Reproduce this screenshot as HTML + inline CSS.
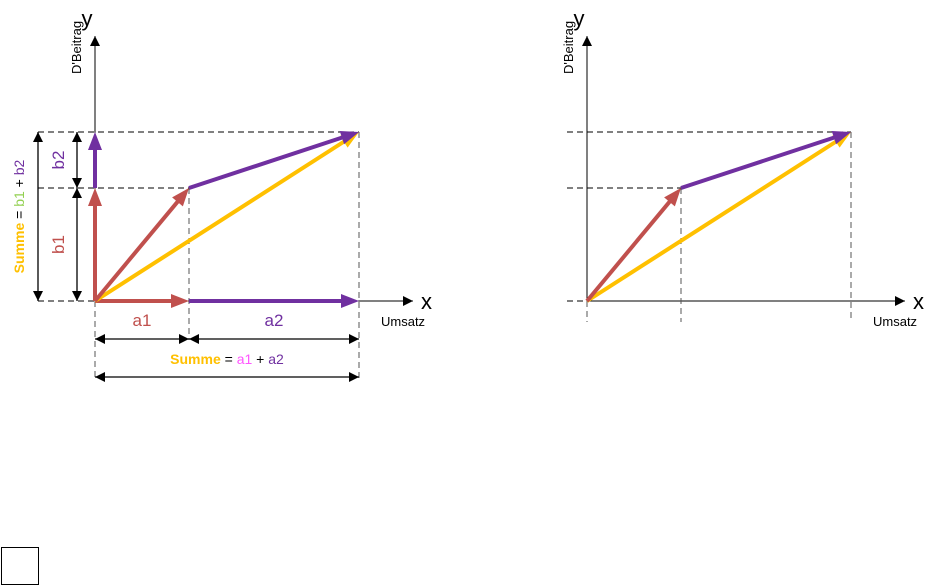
<!DOCTYPE html>
<html><head><meta charset="utf-8"><style>
html,body{margin:0;padding:0;background:#fff;}
svg{display:block;font-family:"Liberation Sans",sans-serif;}
</style></head><body>
<svg id="chart" width="926" height="586" viewBox="0 0 926 586">
<defs>
<marker id="mk" viewBox="0 0 10 10" refX="10" refY="5" markerWidth="12" markerHeight="10" markerUnits="userSpaceOnUse" orient="auto"><path d="M0,0L10,5L0,10z" fill="#000"/></marker>
<marker id="mks" viewBox="0 0 10 10" refX="10" refY="5" markerWidth="12" markerHeight="10" markerUnits="userSpaceOnUse" orient="auto-start-reverse"><path d="M0,0L10,5L0,10z" fill="#000"/></marker>
</defs>
<g id="left"></g>
<g id="right"></g>
<rect x="1.5" y="547.5" width="37" height="37" fill="#fff" stroke="#000" stroke-width="1"/>
</svg>
<script>
// vector components (data units)
const vecLabels = ["v1","v2"];
const vecX = [94, 170];
const vecY = [113, 56];
const vecColors = ["#c0504d","#7030a0"];
const sumColor = "#ffc000";

const NS = "http://www.w3.org/2000/svg";
function mk(parent, tag, attrs, text){
  const e = document.createElementNS(NS, tag);
  for (const k in attrs) e.setAttribute(k, attrs[k]);
  if (text !== undefined) e.textContent = text;
  parent.appendChild(e);
  return e;
}
function arrowHead(g, x1,y1,x2,y2,color,len,wid){
  const a = Math.atan2(y2-y1,x2-x1);
  const bx = x2 - len*Math.cos(a), by = y2 - len*Math.sin(a);
  const px = -Math.sin(a)*wid/2, py = Math.cos(a)*wid/2;
  const p = mk(g,"path",{d:`M${x2},${y2}L${bx+px},${by+py}L${bx-px},${by-py}Z`,fill:color});
  return [bx,by,p];
}
function vec(g, x1,y1,x2,y2,color,name){
  const [bx,by] = [0,0];
  const a = Math.atan2(y2-y1,x2-x1);
  const ex = x2 - 16*Math.cos(a), ey = y2 - 16*Math.sin(a);
  const l = mk(g,"line",{x1,y1,x2:ex,y2:ey,stroke:color,"stroke-width":4});
  
  
  const h = arrowHead(g,x1,y1,x2,y2,color,18,14)[2];
  
  
}
function dashed(g,x1,y1,x2,y2,name,c){
  const l = mk(g,"line",{x1,y1,x2,y2,stroke:c||"#000","stroke-width":1,"stroke-dasharray":"6,4"});
  
  
}
function dim(g,x1,y1,x2,y2,name){
  const l = mk(g,"line",{x1,y1,x2,y2,stroke:"#000","stroke-width":1.3,"marker-end":"url(#mk)","marker-start":"url(#mks)"});
  
  
}

function draw(g, ox, oy, full){
  const sx = v => ox + v;
  const sy = v => oy - v;
  const p1x = sx(vecX[0]), p1y = sy(vecY[0]);
  const p2x = sx(vecX[0]+vecX[1]), p2y = sy(vecY[0]+vecY[1]);
  // axes
  let ax = mk(g,"line",{x1:ox,y1:oy,x2:ox+318,y2:oy,stroke:"#000","stroke-width":1,"marker-end":"url(#mk)"});
   
  let ay = mk(g,"line",{x1:ox,y1:oy,x2:ox,y2:36,stroke:"#000","stroke-width":1,"marker-end":"url(#mk)"});
   
  let t = mk(g,"text",{x:ox+326,y:oy+8,"font-size":22},"x");
   
  t = mk(g,"text",{x:ox+286,y:oy+25,"font-size":13},"Umsatz");
   
  t = mk(g,"text",{x:ox-8,y:26,"font-size":22,"text-anchor":"middle"},"y");
   
  t = mk(g,"text",{x:0,y:0,"font-size":13,transform:`translate(${ox-14},74) rotate(-90)`},"D'Beitrag");
   
  // guides
  const gl = full ? 38 : ox-20;
  dashed(g,gl,p2y,p2x,p2y,'guide-top');
  dashed(g,gl,p1y,p1x,p1y,'guide-mid');
  dashed(g,gl,oy,ox,oy,'guide-base');
  dashed(g,p1x,p1y,p1x,full?340:322,'guide-p1',"#555");
  dashed(g,p2x,p2y,p2x,full?379:322,'guide-p2',"#555");
  dashed(g,ox,oy,ox,full?379:322,'guide-origin',"#555");
  if (full){
    vec(g,ox,oy,p1x,oy,vecColors[0],'vector-a1');
    vec(g,p1x,oy,p2x,oy,vecColors[1],'vector-a2');
    vec(g,ox,oy,ox,p1y,vecColors[0],'vector-b1');
    vec(g,ox,p1y,ox,p2y,vecColors[1],'vector-b2');
    dim(g,ox,339,p1x,339,'dim-a1');
    dim(g,p1x,339,p2x,339,'dim-a2');
    dim(g,ox,377,p2x,377,'dim-sum-x');
    dim(g,77,p2y,77,p1y,'dim-b2');
    dim(g,77,p1y,77,oy,'dim-b1');
    dim(g,38,p2y,38,oy,'dim-sum-y');
    t = mk(g,"text",{x:(ox+p1x)/2,y:326,"font-size":17,fill:vecColors[0],"text-anchor":"middle"},"a1");
     
    t = mk(g,"text",{x:(p1x+p2x)/2,y:326,"font-size":17,fill:vecColors[1],"text-anchor":"middle"},"a2");
     
    t = mk(g,"text",{x:0,y:0,"font-size":17,fill:vecColors[0],"text-anchor":"middle",transform:`translate(64,${(oy+p1y)/2}) rotate(-90)`},"b1");
     
    t = mk(g,"text",{x:0,y:0,"font-size":17,fill:vecColors[1],"text-anchor":"middle",transform:`translate(64,${(p1y+p2y)/2}) rotate(-90)`},"b2");
     
    t = mk(g,"text",{x:(ox+p2x)/2,y:364,"font-size":14,"text-anchor":"middle"});
     
    mk(t,"tspan",{fill:sumColor,"font-weight":"bold"},"Summe");
    mk(t,"tspan",{fill:"#000"}," = ");
    mk(t,"tspan",{fill:"#ff55ff"},"a1");
    mk(t,"tspan",{fill:"#000"}," + ");
    mk(t,"tspan",{fill:vecColors[1]},"a2");
    t = mk(g,"text",{x:0,y:0,"font-size":14,"text-anchor":"middle",transform:`translate(24,${(oy+p2y)/2}) rotate(-90)`});
     
    mk(t,"tspan",{fill:sumColor,"font-weight":"bold"},"Summe");
    mk(t,"tspan",{fill:"#000"}," = ");
    mk(t,"tspan",{fill:"#92d050"},"b1");
    mk(t,"tspan",{fill:"#000"}," + ");
    mk(t,"tspan",{fill:vecColors[1]},"b2");
  }
  vec(g,ox,oy,p2x,p2y,sumColor,'vector-sum');
  vec(g,ox,oy,p1x,p1y,vecColors[0],'vector-1');
  vec(g,p1x,p1y,p2x,p2y,vecColors[1],'vector-2');
}
draw(document.getElementById('left'),95,301,true);
draw(document.getElementById('right'),587,301,false);
</script>
</body></html>
